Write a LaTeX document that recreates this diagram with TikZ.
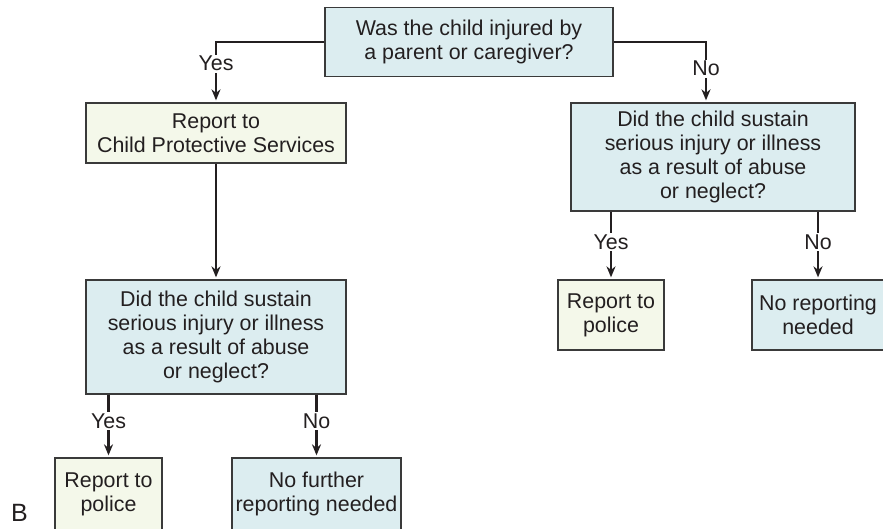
\documentclass[tikz,border=0pt]{standalone}
\usepackage{fontspec}
\setmainfont{Liberation Sans}
\usetikzlibrary{arrows.meta,positioning}
\definecolor{qblue}{HTML}{DCEDF0}
\definecolor{actgreen}{HTML}{F4F8EA}
\definecolor{boxline}{HTML}{3A3A3A}
\definecolor{ink}{HTML}{231F20}

\begin{document}
\begin{tikzpicture}[x=1pt,y=-1pt,
  box/.style={draw=boxline, line width=1.3pt, align=center, inner sep=1pt, text=ink,
    font=\fontsize{21.4}{24}\selectfont},
  qbox/.style={box, fill=qblue},
  actbox/.style={box, fill=actgreen},
  lbl/.style={fill=white, inner sep=1.5pt, text=ink, font=\fontsize{21.4}{24}\selectfont},
  arr/.style={draw=ink, line width=2.6pt, shorten >=2pt, -{Stealth[length=11pt,width=9pt]}}]
  \useasboundingbox (0,0) rectangle (883,528);

  % top question
  \node [qbox, minimum width=288pt, minimum height=69pt] (q1) at (469,42) {Was the child injured by\\a parent or caregiver?};

  % left branch
  \node [actbox, minimum width=260pt, minimum height=60pt] (cps) at (216,133) {Report to\\Child Protective Services};
  \node [qbox, minimum width=260pt, minimum height=114pt] (q2) at (216,337) {Did the child sustain\\serious injury or illness\\as a result of abuse\\or neglect?};
  \node [actbox, minimum width=107pt, minimum height=72pt] (pol1) at (108.5,494) {Report to\\police};
  \node [qbox, minimum width=169pt, minimum height=72pt] (further) at (316.5,494) {No further\\reporting needed};

  % right branch
  \node [qbox, minimum width=284pt, minimum height=108pt] (q3) at (713,157) {Did the child sustain\\serious injury or illness\\as a result of abuse\\or neglect?};
  \node [actbox, minimum width=106pt, minimum height=70pt] (pol2) at (611,315) {Report to\\police};
  \node [qbox, minimum width=132pt, minimum height=70pt] (noreport) at (818,315) {No reporting\\needed};

  \node [text=ink, inner sep=0pt, font=\fontsize{25}{28}\selectfont] (fig) at (19.5,513) {B};

  \draw [arr] (q1.west) -| node [lbl, pos=0.68] {Yes} (cps.north);
  \draw [arr] (q1.east) -| node [lbl, pos=0.72] {No} ([xshift=-7pt]q3.north);
  \draw [arr] (cps) -- (q2);
  \draw [arr] (q2.south -| pol1.north) -- node [lbl, pos=0.42] {Yes} (pol1.north);
  \draw [arr] (q2.south -| further.north) -- node [lbl, pos=0.42] {No} (further.north);
  \draw [arr] (q3.south -| pol2.north) -- node [lbl, pos=0.45] {Yes} (pol2.north);
  \draw [arr] (q3.south -| noreport.north) -- node [lbl, pos=0.45] {No} (noreport.north);
\end{tikzpicture}
\end{document}
